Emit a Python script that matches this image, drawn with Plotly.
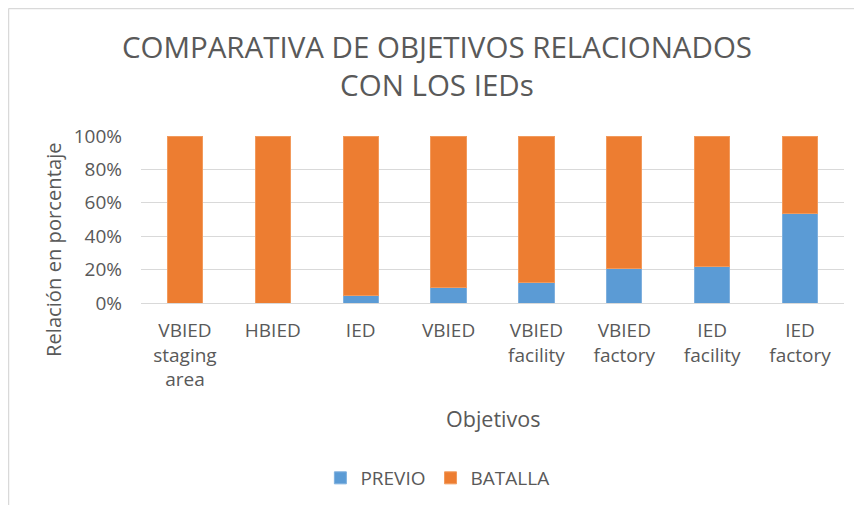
import plotly.graph_objects as go

categories = ["VBIED<br>staging<br>area", "HBIED", "IED", "VBIED", "VBIED<br>facility",
              "VBIED<br>factory", "IED<br>facility", "IED<br>factory"]
previo = [0.0, 0.0, 0.046, 0.092, 0.12, 0.205, 0.22, 0.535]
batalla = [1 - v for v in previo]
tick_vals = [0, 0.2, 0.4, 0.6, 0.8, 1.0]
tick_text = ["0%", "20%", "40%", "60%", "80%", "100%"]

FONT = "Open Sans"
GRAY = "#595959"

fig = go.Figure()
fig.add_trace(go.Bar(name="PREVIO", x=categories, y=previo,
                     marker=dict(color="#5B9BD5", line=dict(color="#7fb0de", width=1))))
fig.add_trace(go.Bar(name="BATALLA", x=categories, y=batalla,
                     marker=dict(color="#ED7D31", line=dict(color="#f29a5c", width=1))))

# page body has an 8px margin, so figure coords = screen coords - 8
fig.update_layout(
    barmode="stack",
    bargap=0.6,
    width=862, height=506,
    margin=dict(l=133, r=26, t=128, b=211),
    paper_bgcolor="white", plot_bgcolor="white",
    font=dict(family=FONT, color=GRAY, size=18),
    title=dict(text="COMPARATIVA DE OBJETIVOS RELACIONADOS<br>CON LOS IEDs",
               x=0.421, xref="paper", xanchor="center", y=1 - 50 / 506, yanchor="middle",
               font=dict(family=FONT, size=29.5, color=GRAY)),
    legend=dict(orientation="h", x=0.4216, xanchor="center", y=(303 - 478) / 167, yanchor="middle",
                font=dict(size=19, color=GRAY), traceorder="normal"),
    showlegend=True,
)
fig.update_yaxes(range=[0, 1], tickvals=tick_vals, ticktext=tick_text,
                 showgrid=True, gridcolor="#D9D9D9", gridwidth=1, zeroline=False,
                 showline=False, ticks="", ticklabelstandoff=18,
                 tickfont=dict(size=19, color=GRAY))
fig.update_xaxes(showgrid=False, showline=True, linecolor="#D9D9D9", linewidth=1,
                 ticks="", tickfont=dict(size=19, color=GRAY), tickangle=0,
                 ticklabelstandoff=10)

fig.add_annotation(text="Relación en porcentaje", textangle=-90, xref="paper", yref="paper",
                   x=(53 - 141) / 703, y=(303 - 250) / 167, xanchor="center", yanchor="middle",
                   showarrow=False, font=dict(size=20.2, color=GRAY))
fig.add_annotation(text="Objetivos", xref="paper", yref="paper",
                   x=0.5, y=(303 - 418) / 167, xanchor="center", yanchor="middle",
                   showarrow=False, font=dict(size=21.5, color=GRAY))

# chart frame: only top and left edges are visible in the reference
x_left = (8.5 - 141) / 703
y_top = (303 - 8.5) / 167
fig.add_shape(type="line", xref="paper", yref="paper",
              x0=x_left, x1=(870 - 141) / 703, y0=y_top, y1=y_top,
              line=dict(color="#D9D9D9", width=1.5), layer="below")
fig.add_shape(type="line", xref="paper", yref="paper",
              x0=x_left, x1=x_left, y0=y_top, y1=(303 - 505) / 167,
              line=dict(color="#D9D9D9", width=1.5), layer="below")

fig.write_html("out.html")
